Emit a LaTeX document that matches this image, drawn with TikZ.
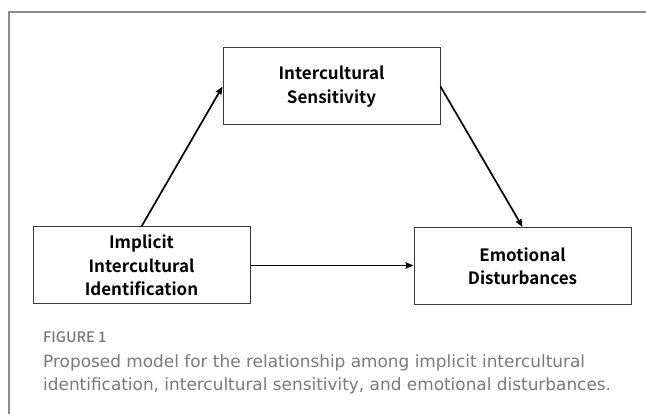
\documentclass[tikz,border=0pt]{standalone}
\usepackage{fontspec}
\setmainfont{DejaVu Sans}
\newfontfamily\boxfont{Noto Sans CJK SC Bold}
\newfontfamily\labfont{Noto Sans CJK SC Medium}
\usetikzlibrary{arrows.meta}
\definecolor{framegray}{HTML}{8C8C8C}
\definecolor{capgray}{HTML}{7A7A7A}
\definecolor{labgray}{HTML}{777777}
\definecolor{boxline}{HTML}{3A3A3A}
\tikzset{
  varbox/.style={draw=boxline, line width=1pt, rectangle, minimum width=217pt, minimum height=77pt,
    align=center, inner sep=0pt, font=\boxfont\fontsize{17}{23.5}\selectfont},
  conn/.style={draw=black, line width=1.7pt, -{Stealth[length=8pt,width=6.5pt,inset=1pt]}},
  captxt/.style={anchor=base west, inner sep=0pt, text=capgray, font=\fontsize{16.9}{23}\selectfont},
}
\begin{document}
\begin{tikzpicture}[x=1pt,y=-1pt]
\useasboundingbox (0,0) rectangle (646,414);
\fill[white] (0,0) rectangle (646,414);
\draw[framegray, line width=1.3pt] (9,430) -- (9,12) -- (660,12);
\node[varbox] (top) at (331.5,86.5) {Intercultural\\Sensitivity};
\node[varbox] (left) at (141.5,265.5) {Implicit\\Intercultural\\Identification};
\node[varbox] (right) at (522.5,266) {Emotional\\Disturbances};
\draw[conn] (left.north) -- (top.west);
\draw[conn] (top.east) -- (right.north);
\draw[conn] (left.east) -- (left.east -| right.west);
\node[anchor=base west, inner sep=0pt, text=labgray, font=\labfont\fontsize{14.5}{16}\selectfont] (figlab) at (43,343) {FIGURE 1};
\node[captxt] (cap1) at (43,368) {Proposed model for the relationship among implicit intercultural};
\node[captxt] (cap2) at (43,391) {identification, intercultural sensitivity, and emotional disturbances.};
\end{tikzpicture}
\end{document}
